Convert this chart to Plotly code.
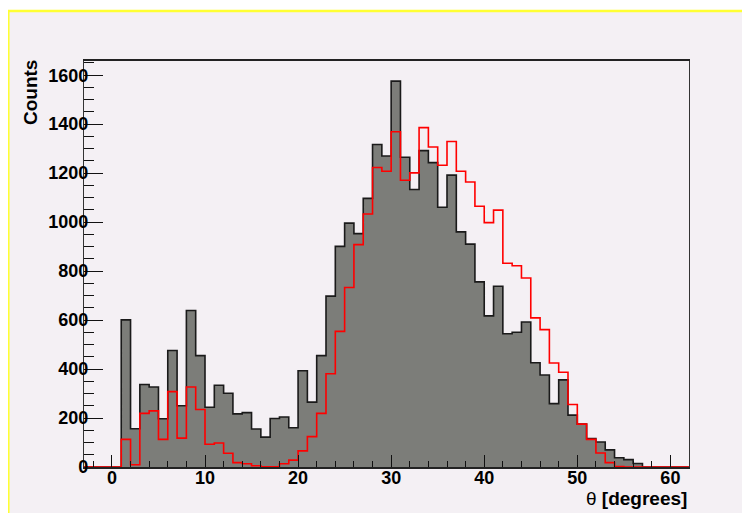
import plotly.graph_objects as go

# Histogram binning: unit-width bins, axis from -3 to 62
x_min = -3
x_max = 62
first_bin = 1  # lower edge of first listed bin

# Gray (data) histogram counts for bins [1,2), [2,3), ... [56,57)
gray_counts = [601, 156, 337, 327, 197, 476, 250, 639, 455, 244,
               334, 301, 217, 222, 155, 122, 198, 204, 160, 393,
               265, 455, 698, 901, 996, 953, 1097, 1317, 1270, 1576,
               1265, 1133, 1292, 1243, 1061, 1192, 960, 910, 756, 617,
               738, 544, 550, 592, 426, 376, 259, 356, 212, 175,
               116, 102, 70, 38, 30, 14]

# Red (simulation) histogram counts for bins [1,2), ... [55,56)
red_counts = [113, 9, 219, 229, 113, 308, 118, 327, 235, 93,
              98, 56, 18, 13, 5, 1, 1, 13, 28, 66,
              124, 219, 381, 554, 733, 908, 1033, 1223, 1208, 1369,
              1171, 1201, 1386, 1307, 1232, 1329, 1208, 1164, 1065, 998,
              1049, 832, 822, 772, 609, 561, 425, 387, 255, 175,
              113, 57, 18, 2, 0]

x_tick_vals = [0, 10, 20, 30, 40, 50, 60]
y_tick_vals = [0, 200, 400, 600, 800, 1000, 1200, 1400, 1600]

edges = list(range(x_min, x_max + 1))


def full_counts(counts):
    c = [0] * (len(edges) - 1)
    for i, v in enumerate(counts):
        c[first_bin - x_min + i] = v
    return c


g = full_counts(gray_counts)
r = full_counts(red_counts)

BG = "#f4f0f4"
OFF = 8  # page body margin
W, H = 750 - OFF, 513 - OFF
L, T = 84 - OFF, 61 - OFF
R = W - (689 - OFF)
B = H - (467 - OFF)
PW, PH = W - L - R, H - T - B


def px(xp):  # page pixel x -> paper
    return (xp - OFF - L) / PW


def py(yp):  # page pixel y -> paper
    return (H - B - (yp - OFF)) / PH


fig = go.Figure()
fig.add_trace(go.Scatter(
    x=edges, y=g + [g[-1]], mode="lines", line_shape="hv",
    line=dict(color="#1a1a1a", width=1.6),
    fill="tozeroy", fillcolor="#7c7d79", hoverinfo="skip", showlegend=False))
fig.add_trace(go.Scatter(
    x=edges, y=r + [r[-1]], mode="lines", line_shape="hv",
    line=dict(color="#ff0000", width=1.6),
    hoverinfo="skip", showlegend=False))

tick_font = dict(family="Liberation Sans, Arial", size=18, color="black", weight="bold")
title_font = dict(family="Liberation Sans, Arial", size=19, color="black", weight="bold")

fig.update_layout(
    width=W, height=H,
    margin=dict(l=L, r=R, t=T, b=B, pad=0),
    paper_bgcolor="white", plot_bgcolor=BG,
    showlegend=False,
    xaxis=dict(range=[x_min, x_max], showgrid=False, zeroline=False,
               showline=True, linecolor="#222", linewidth=1.5, mirror=True,
               ticks="inside", ticklen=12, tickwidth=1.2, tickcolor="#111",
               tickvals=x_tick_vals, tickfont=tick_font, ticklabelstandoff=-6,
               minor=dict(ticks="inside", ticklen=6, tickwidth=1.2, tickcolor="#111", dtick=2, tick0=0)),
    yaxis=dict(range=[0, 1658], showgrid=False, zeroline=False,
               showline=True, linecolor="#333", linewidth=1.2, mirror=True,
               ticks="inside", ticklen=19, tickwidth=1.2, tickcolor="#111",
               tickvals=y_tick_vals, tickfont=tick_font, ticklabelstandoff=-9,
               minor=dict(ticks="inside", ticklen=10, tickwidth=1.2, tickcolor="#111", dtick=50, tick0=0)),
    shapes=[dict(type="rect", xref="paper", yref="paper",
                 x0=px(8.3), x1=px(770), y0=py(540), y1=py(11),
                 fillcolor=BG, line=dict(color="#ffff33", width=2.5), layer="below")],
    annotations=[
        dict(text="<span style='font-weight:normal'>θ</span> [degrees]", xref="paper", yref="paper",
             x=px(689), y=py(499),
             xanchor="right", yanchor="middle", showarrow=False, font=title_font),
        dict(text="Counts", xref="paper", yref="paper", x=px(30), y=py(93),
             xanchor="center", yanchor="middle", textangle=-90, showarrow=False, font=title_font),
    ],
)

fig.write_html("out.html")
